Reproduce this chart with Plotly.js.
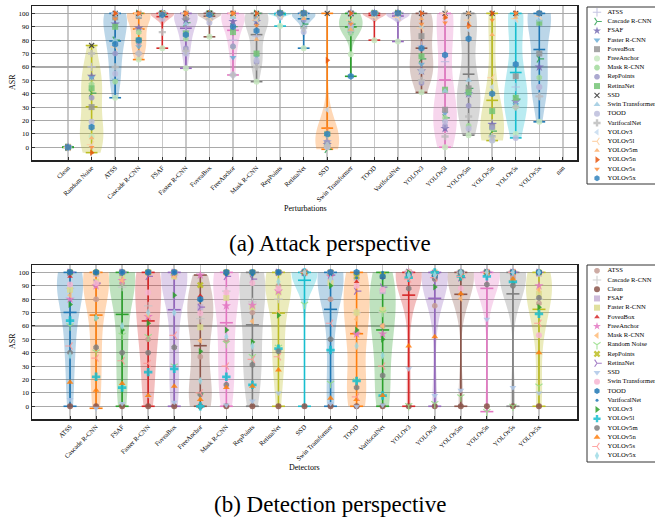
<!DOCTYPE html>
<html><head><meta charset="utf-8">
<script src="https://cdn.plot.ly/plotly-3.0.1.min.js"></script>
<style>html,body{margin:0;padding:0;background:#fff}#chart{width:655px;height:518px}</style>
</head><body><div id="chart"></div>
<script>
// ---------------- DATA ----------------
const perturbations = ['Clean','Random Noise','ATSS','Cascade R-CNN','FSAF','Faster R-CNN','FoveaBox','FreeAnchor','Mask R-CNN','RepPoints','RetinaNet','SSD','Swin Transformer','TOOD','VarifocalNet','YOLOv3','YOLOv5l','YOLOv5m','YOLOv5n','YOLOv5s','YOLOv5x'];
const topTickLabels = ['Clean','Random Noise','ATSS','Cascade R-CNN','FSAF','Faster R-CNN','FoveaBox','FreeAnchor','Mask R-CNN','RepPoints','RetinaNet','SSD','Swin Transformer','TOOD','VarifocalNet','YOLOv3','YOLOv5l','YOLOv5m','YOLOv5n','YOLOv5s','YOLOv5x','nan'];
const detectors = ['ATSS','Cascade R-CNN','FSAF','Faster R-CNN','FoveaBox','FreeAnchor','Mask R-CNN','RepPoints','RetinaNet','SSD','Swin Transformer','TOOD','VarifocalNet','YOLOv3','YOLOv5l','YOLOv5m','YOLOv5n','YOLOv5s','YOLOv5x'];
// bottom legend lists perturbations alphabetically
const pertLegendNames = ['ATSS','Cascade R-CNN','Clean','FSAF','Faster R-CNN','FoveaBox','FreeAnchor','Mask R-CNN','Random Noise','RepPoints','RetinaNet','SSD','Swin Transformer','TOOD','VarifocalNet','YOLOv3','YOLOv5l','YOLOv5m','YOLOv5n','YOLOv5s','YOLOv5x'];

// ASR of each detector (row) under each perturbation (same order as `perturbations`)
const asrATSS       = [0,60,100,88,100,87,97,80,83,100,100,5,91,100,100,76,64,40,18,45,38];
const asrCascade    = [0,40.5,80,100,99,93,99,90,100,100,92,-1.5,92,100,100,66,22,44,12,36,66];
const asrFSAF       = [0,53,92,89,100,95,100,94,94,100,100,2,100,100,100,57,14,40,17,34,60];
const asrFaster     = [0,52,50,75,100,100,99,67,68,100,97,8,85,100,100,62,25.5,40,8,32,70];
const asrFoveaBox   = [0,30,97,98,100,97,100,99,97,100,100,3,100,100,100,83,28,44,15,53,70];
const asrFreeAnchor = [0,8,37,65.5,74,59,82.5,98,49,90.5,74,0,69.5,80,79,41,0,9,5,10,19];
const asrMask       = [0,47,49,86,100,81,100,75,100,100,97,1,85,100,98,57,22,16,14,30,52];
const asrRepPoints  = [0,37,70,78,100,74,100,75.5,63.5,100,95,4,92,100,98,48,16,31,15,35,45];
const asrRetinaNet  = [0,44,90,80,100,85,100,86,70,100,100,10,88,100,100,68,43,41,27,37,93];
const asrSSD        = [0,76,100,100,100,100,100,100,100,100,100,100,100,100,100,100,100,100,100,100,100];
const asrSwin       = [0,17,80,98,100,92,98,97,95,100,98,2,100,100,98,90,42,50,6,62,95];
const asrTOOD       = [0,19,55,70,96,70,93,54,65,97,86,0,90,100,96,57,19,14,5,7,45];
const asrVarifocal  = [0,70,60,70,86,72,96,54,60,98,89,1,87,97,100,50,8,23,8,30,38];
const asrYOLOv3     = [0,0.5,100,100,100,100,99,100,100,98,100,28,100,98.5,97,100,96,88,45,95,98];
const asrYOLOv5l    = [0,2,75,100,99,100,97,100,95,99,99,8,95,97,97,89,100,95,52,96,98];
const asrYOLOv5m    = [0,7,100,100,100,100,100,100,80.5,99.5,96,12,88,100,99,96,97,100,84,97,100];
const asrYOLOv5n    = [0,-4,100,100,100,100,100,100,100,100,100,65,100,100,100,100,97,91,100,100,100];
const asrYOLOv5s    = [0,0,96,100,100,100,100,100,91,100,100,14,92,100,100,92,93,90,95,100,100];
const asrYOLOv5x    = [0,15,77,80,99,84,99,90,87,100,100,10,53,100,100,74,69,81,40,62,100];
const detRows = [asrATSS,asrCascade,asrFSAF,asrFaster,asrFoveaBox,asrFreeAnchor,asrMask,asrRepPoints,asrRetinaNet,asrSSD,asrSwin,asrTOOD,asrVarifocal,asrYOLOv3,asrYOLOv5l,asrYOLOv5m,asrYOLOv5n,asrYOLOv5s,asrYOLOv5x];

// ---------------- STYLES ----------------
const FONT = 'Liberation Serif, Times New Roman, serif';
const tab10 = ['#1f77b4','#ff7f0e','#2ca02c','#d62728','#9467bd','#8c564b','#e377c2','#7f7f7f','#bcbd22','#17becf'];
const topViolinColors = ['#2ca02c','#bcbd22','#1f77b4','#ff7f0e','#d62728','#9467bd','#8c564b','#e377c2','#7f7f7f','#17becf','#1f77b4','#ff7f0e','#2ca02c','#d62728','#9467bd','#8c564b','#e377c2','#7f7f7f','#bcbd22','#17becf','#1f77b4'];
const detSymbols = ['cross-thin','y-right','star','triangle-down','square','circle','octagon','octagon','square','x-thin','triangle-up','circle','cross','triangle-left','y-left','triangle-up','triangle-right','triangle-down','hexagon'];
const detColors  = ['#bdbddf','#31a354','#756bb1','#6baed6','#969696','#c7e9c0','#a1d99b','#9e9ac8','#74c476','#333333','#9ecae1','#bcbddc','#bdbdbd','#c6dbef','#fdd0a2','#fdae6b','#e6550d','#fd8d3c','#3182bd'];
const detSizes   = [6,6,7,6,6,6,6,6,6,5,6,6,6,6,6,5,6,5,7];
// styles in the order of pertLegendNames
const pertSymbols = ['octagon','cross-thin','circle','square','square','triangle-up','star','triangle-left','y-down','x','y-right','triangle-down','circle','hexagon','circle','triangle-right','cross','octagon','triangle-up','y-left','diamond-tall'];
const pertColors  = ['#c49c94','#c7c7c7','#8c564b','#c5b0d5','#dbdb8d','#d62728','#e377c2','#ffbb78','#98df8a','#bcbd22','#9467bd','#aec7e8','#f7b6d2','#1f77b4','#1f77b4','#2ca02c','#17becf','#7f7f7f','#ff7f0e','#ff9896','#9edae5'];
const pertSizes   = [6,6,6,6,6,5,7,6,6,6,6,6,6,7,3,6,7,6,6,6,6];
const LINE_SYMS = new Set(['cross-thin','x-thin','y-left','y-right','y-down','y-up']);

function rgba(hex,a){const n=parseInt(hex.slice(1),16);return `rgba(${n>>16&255},${n>>8&255},${n&255},${a})`;}
function mean(v){return v.reduce((s,x)=>s+x,0)/v.length;}
function scottBw(v){const m=mean(v);const s2=v.reduce((s,x)=>s+(x-m)*(x-m),0)/(v.length-1);return Math.sqrt(s2)*Math.pow(v.length,-0.2);}

const traces = [];
function addViolin(vals,pos,color,xa,ya){
  const bw = scottBw(vals);
  if (bw > 0) {
    traces.push({type:'violin',x0:pos,y:vals,xaxis:xa,yaxis:ya,width:1,spanmode:'hard',bandwidth:bw,
      points:false,box:{visible:false},meanline:{visible:false},fillcolor:rgba(color,0.3),
      line:{width:0,color:rgba(color,0.3)},scalemode:'width',showlegend:false,hoverinfo:'skip'});
  }
}
function addStats(vals,pos,color,xa,ya){
  const lo=Math.min(...vals), hi=Math.max(...vals), mu=mean(vals), h=0.25;
  traces.push({type:'scatter',mode:'lines',xaxis:xa,yaxis:ya,showlegend:false,hoverinfo:'skip',
    x:[pos,pos,null,pos-h,pos+h,null,pos-h,pos+h,null,pos-h,pos+h],
    y:[lo,hi,null,lo,lo,null,hi,hi,null,mu,mu],
    line:{color:color,width:1.6}});
}
function mk(sym,col,size){return {symbol:sym,color:col,size:size,opacity:0.85,
  line:{color:col,width:LINE_SYMS.has(sym)?1.2:0}};}

// ---- top panel: x = perturbation, series = detector
perturbations.forEach((p,j)=>{ const vals=detRows.map(r=>r[j]); addViolin(vals,j,topViolinColors[j],'x','y'); });
perturbations.forEach((p,j)=>{ const vals=detRows.map(r=>r[j]); addStats(vals,j,topViolinColors[j],'x','y'); });
detectors.forEach((d,i)=>{
  traces.push({type:'scatter',mode:'markers',xaxis:'x',yaxis:'y',showlegend:false,hoverinfo:'skip',
    x:perturbations.map((_,j)=>j),y:detRows[i],marker:mk(detSymbols[i],detColors[i],detSizes[i])});
});
// ---- bottom panel: x = detector, series = perturbation
detectors.forEach((d,i)=>{ addViolin(detRows[i],i,tab10[i%10],'x2','y2'); });
detectors.forEach((d,i)=>{ addStats(detRows[i],i,tab10[i%10],'x2','y2'); });
pertLegendNames.forEach((name,k)=>{
  const j = perturbations.indexOf(name);
  traces.push({type:'scatter',mode:'markers',xaxis:'x2',yaxis:'y2',showlegend:false,hoverinfo:'skip',
    x:detectors.map((_,i)=>i),y:detRows.map(r=>r[j]),marker:mk(pertSymbols[k],pertColors[k],pertSizes[k])});
});

// ---- custom legends (pixel-space overlay axes)
const LEG_MX=597, LEG_TX=607.5;
const topLegY0=12.3, topLegDy=9.22, botLegY0=270.7, botLegDy=9.25;
function addLegend(names,syms,cols,sizes,y0,dy){
  const ys=names.map((_,i)=>y0+i*dy);
  traces.push({type:'scatter',mode:'markers',xaxis:'x3',yaxis:'y3',showlegend:false,hoverinfo:'skip',
    x:names.map(()=>LEG_MX),y:ys,
    marker:{symbol:syms,color:cols,size:sizes.map(s=>Math.min(s,6)),opacity:0.85,
      line:{color:cols,width:syms.map(s=>LINE_SYMS.has(s)?1.1:0)}}});
  traces.push({type:'scatter',mode:'text',xaxis:'x3',yaxis:'y3',showlegend:false,hoverinfo:'skip',
    x:names.map(()=>LEG_TX),y:ys,text:names,textposition:'middle right',
    textfont:{family:FONT,size:6.6,color:'#000'}});
}
addLegend(detectors,detSymbols,detColors,detSizes,topLegY0,topLegDy);
addLegend(pertLegendNames,pertSymbols,pertColors,pertSizes,botLegY0,botLegDy);

// ---------------- LAYOUT ----------------
const W=655,H=518;
const xDom=[32/W,577/W];
const yTicks=[0,10,20,30,40,50,60,70,80,90,100];
function xAxis(labels,range,anchor){return {domain:xDom,range:range,anchor:anchor,tickmode:'array',
  tickvals:labels.map((_,i)=>i),ticktext:labels,tickangle:-45,tickfont:{family:FONT,size:6.6,color:'#000'},
  showgrid:true,gridcolor:'#c8c8c8',gridwidth:1.5,zeroline:false,showline:true,mirror:true,
  linecolor:'#222',linewidth:1.5,ticks:'inside',ticklen:3,tickcolor:'#333',fixedrange:true};}
function yAxis(dom,anchor){return {domain:dom,range:[-9.5,105.5],anchor:anchor,tickmode:'array',tickvals:yTicks,
  tickfont:{family:FONT,size:7,color:'#000'},showgrid:true,gridcolor:'#a9a9a9',gridwidth:1.2,zeroline:false,
  showline:true,mirror:true,linecolor:'#222',linewidth:1.5,ticks:'inside',ticklen:3,tickcolor:'#333',fixedrange:true};}
const ann=(x,y,text,size,angle)=>({xref:'paper',yref:'paper',x:x/W,y:1-y/H,text:text,showarrow:false,
  xanchor:'center',yanchor:'middle',textangle:angle||0,font:{family:FONT,size:size,color:'#000'}});

const layout={
  width:W,height:H,margin:{l:0,r:0,t:0,b:0},paper_bgcolor:'#fff',plot_bgcolor:'rgba(0,0,0,0)',
  showlegend:false,violinmode:'overlay',
  xaxis:xAxis(topTickLabels,[-1.53,21.6],'y'),
  yaxis:yAxis([1-160/H,1-6/H],'x'),
  xaxis2:xAxis(detectors,[-1.46,19.46],'y2'),
  yaxis2:yAxis([1-419/H,1-265/H],'x2'),
  xaxis3:{domain:[0,1],range:[0,W],anchor:'y3',visible:false,fixedrange:true},
  yaxis3:{domain:[0,1],range:[H,0],anchor:'x3',visible:false,fixedrange:true},
  shapes:[
    {type:'rect',xref:'x3',yref:'y3',x0:587,x1:664,y0:7,y1:184,line:{color:'#333',width:1}},
    {type:'rect',xref:'x3',yref:'y3',x0:587,x1:664,y0:265,y1:462,line:{color:'#333',width:1}}
  ],
  annotations:[
    ann(12,82,'ASR',8,-90), ann(12,341,'ASR',8,-90),
    ann(305,208,'Perturbations',8), ann(304,467,'Detectors',8),
    ann(330,244,'(a) Attack perspective',23), ann(330,504,'(b) Detection perspective',23)
  ]
};
Plotly.newPlot('chart',traces,layout,{staticPlot:true,displayModeBar:false});
</script></body></html>
